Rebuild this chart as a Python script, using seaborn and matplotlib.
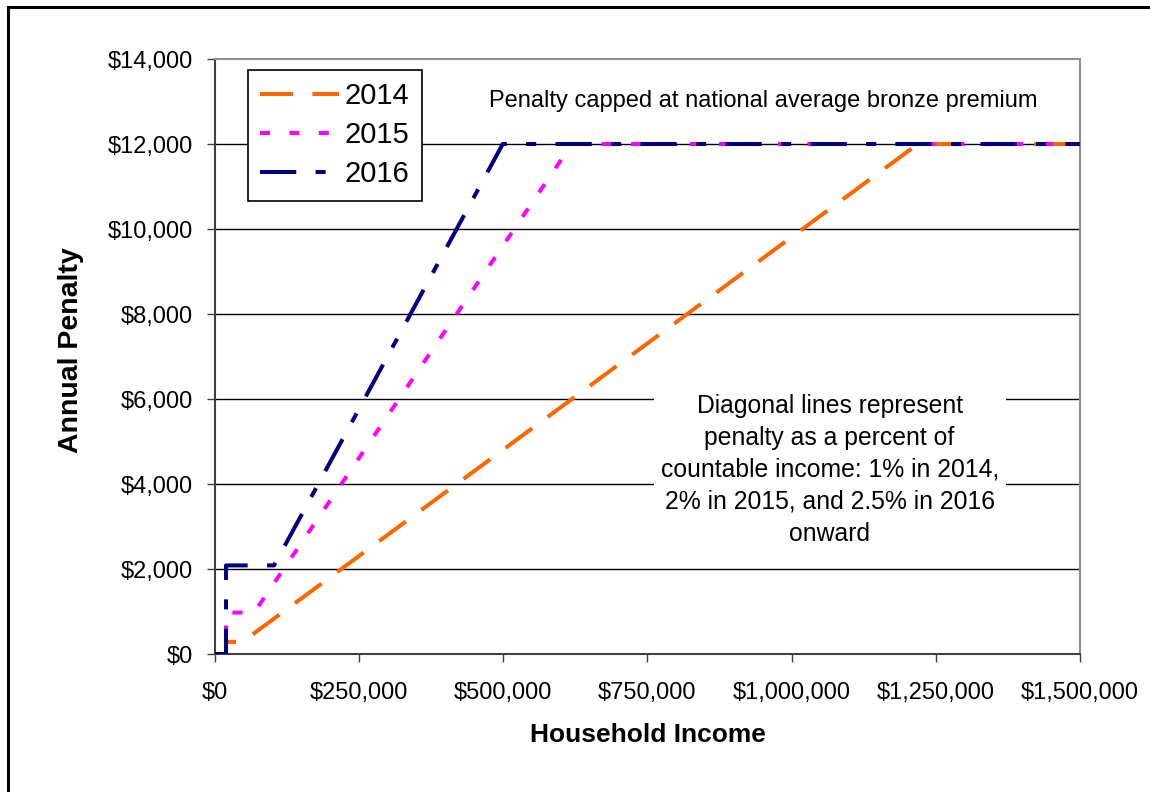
import matplotlib
matplotlib.use('Agg')
import matplotlib.pyplot as plt
import matplotlib.ticker as mticker
from matplotlib.patches import Rectangle
import pandas as pd
import seaborn as sns

# breakpoints (income, annual penalty)
years = ['2014', '2015', '2016']
income_2014 = [0, 19000, 19000, 47500, 1219000, 1500000]
penalty_2014 = [0, 0, 285, 285, 12000, 12000]
income_2015 = [0, 19000, 19000, 67750, 619000, 1500000]
penalty_2015 = [0, 0, 975, 975, 12000, 12000]
income_2016 = [0, 19000, 19000, 102400, 499000, 1500000]
penalty_2016 = [0, 0, 2085, 2085, 12000, 12000]

y_ticks = [0, 2000, 4000, 6000, 8000, 10000, 12000, 14000]
x_ticks = [0, 250000, 500000, 750000, 1000000, 1250000, 1500000]

colors = {'2014': '#FF6600', '2015': '#FF00FF', '2016': '#000080'}
dashes = {'2014': (8.2, 4.8), '2015': (2.5, 4.8), '2016': (9.0, 4.8, 2.5, 4.8)}

frames = []
for yr, inc, pen in zip(years, [income_2014, income_2015, income_2016],
                        [penalty_2014, penalty_2015, penalty_2016]):
    frames.append(pd.DataFrame({'income': inc, 'penalty': pen, 'year': yr}))
df = pd.concat(frames, ignore_index=True)

sns.set_style('white')
plt.rcParams['font.family'] = ['Liberation Sans', 'DejaVu Sans']
plt.rcParams['text.color'] = 'black'
plt.rcParams['axes.labelcolor'] = 'black'
plt.rcParams['xtick.color'] = 'black'
plt.rcParams['ytick.color'] = 'black'

fig = plt.figure(figsize=(11.5, 7.92), dpi=100)
ax = fig.add_axes([0.187, 0.1742, 0.752, 0.7513])

# horizontal gridlines (Excel style)
for v in y_ticks[1:-1]:
    ax.axhline(v, color='black', lw=1.0, zorder=1)

sns.lineplot(data=df, x='income', y='penalty', hue='year', style='year',
             palette=colors, dashes=dashes, estimator=None, sort=False,
             units='year', lw=2.9, ax=ax, zorder=3, legend=True)

ax.set_xlim(0, 1500000)
ax.set_ylim(0, 14000)
ax.set_xticks(x_ticks)
ax.set_yticks(y_ticks)
ax.xaxis.set_major_formatter(mticker.FuncFormatter(lambda v, p: '${:,.0f}'.format(v)))
ax.yaxis.set_major_formatter(mticker.FuncFormatter(lambda v, p: '${:,.0f}'.format(v)))
ax.tick_params(axis='both', labelsize=17, direction='out', length=6, width=1, color='#404040')
ax.tick_params(axis='y', left=True, pad=10)
ax.tick_params(axis='x', bottom=True, pad=14)

for side in ['left', 'bottom']:
    ax.spines[side].set_color('#404040')
    ax.spines[side].set_linewidth(1.5)
for side in ['top', 'right']:
    ax.spines[side].set_color('#909090')
    ax.spines[side].set_linewidth(1.5)

ax.set_xlabel('Household Income', fontsize=19, fontweight='bold')
ax.set_ylabel('Annual Penalty', fontsize=20.5, fontweight='bold')
ax.xaxis.set_label_coords(0.5, -0.116)
ax.yaxis.set_label_coords(-0.152, 0.51)

ax.text(950000, 13010, 'Penalty capped at national average bronze premium',
        ha='center', va='center', fontsize=17, zorder=4,
        bbox=dict(facecolor='white', edgecolor='none', pad=2))
ax.text(1066000, 4330,
        'Diagonal lines represent\npenalty as a percent of\ncountable income: 1% in 2014,\n2% in 2015, and 2.5% in 2016\nonward',
        ha='center', va='center', multialignment='center', fontsize=17.8,
        linespacing=1.42, zorder=4,
        bbox=dict(facecolor='white', edgecolor='none', pad=5))

handles, labels = ax.get_legend_handles_labels()
leg = ax.legend(handles, labels, loc='upper left', bbox_to_anchor=(0.038, 0.9815),
                borderaxespad=0, fontsize=21, handlelength=2.7, labelspacing=0.38,
                frameon=True, fancybox=False, framealpha=1, edgecolor='black',
                borderpad=0.42, handletextpad=0.2)
leg.get_frame().set_linewidth(1.2)
leg.set_zorder(5)

# outer chart border
fig.patches.append(Rectangle((8 / 1150, -0.1), 1.2, 1.1 - 7 / 792, transform=fig.transFigure,
                             fill=False, edgecolor='black', lw=2.2))

fig.savefig('out.png', dpi=100, facecolor='white')
